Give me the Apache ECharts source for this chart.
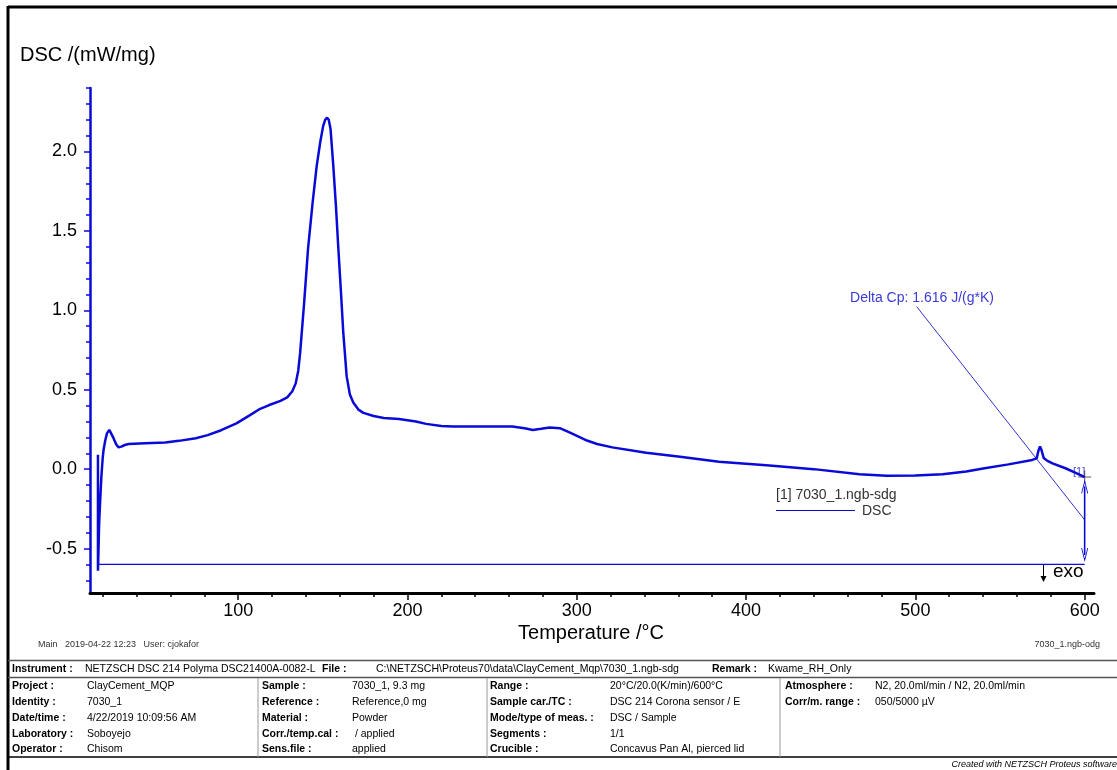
<!DOCTYPE html>
<html><head><meta charset="utf-8">
<script src="https://cdn.jsdelivr.net/npm/echarts@6/dist/echarts.min.js"></script>
<style>html,body{margin:0;padding:0;background:#fff}#c{width:1117px;height:770px}</style>
</head><body><div id="c"></div>
<script>
// ---- data ----
const temperature = [17.2,17.2,17.5,17.8,18.0,18.5,19.2,20.0,20.5,21.5,22.5,23.9,25.0,26.4,28.0,29.4,31.0,33.0,35.3,45,57,65,75,82,90,99,107,113,118,125,129,132,134,135.5,136.6,139,141.3,144,146.4,148.5,150.2,151.4,152.5,153.5,154.6,156.2,157.8,159.2,160.7,162.1,164.1,166,168,171,174,180,186,195,205,211,220,227,245,262,270,274,279,284,290,296,302,306,312,321,341,361,384,412,440,467,483,500,516,530,540,555,569,571.6,572.8,573.6,574.5,575.8,578,581,589,595,600];
const dsc = [0.09,-0.64,-0.52,-0.38,-0.32,-0.2,-0.05,0.07,0.12,0.18,0.225,0.247,0.235,0.195,0.155,0.137,0.142,0.152,0.158,0.163,0.168,0.178,0.195,0.214,0.245,0.288,0.34,0.38,0.402,0.43,0.452,0.49,0.54,0.62,0.73,1.05,1.39,1.68,1.91,2.06,2.16,2.2,2.213,2.2,2.14,1.91,1.65,1.386,1.12,0.86,0.584,0.47,0.42,0.375,0.354,0.335,0.322,0.315,0.3,0.285,0.272,0.268,0.268,0.268,0.256,0.247,0.254,0.262,0.258,0.23,0.2,0.18,0.158,0.137,0.103,0.078,0.046,0.025,0.0,-0.032,-0.042,-0.04,-0.032,-0.015,0.004,0.03,0.058,0.068,0.12,0.143,0.12,0.07,0.052,0.036,0.004,-0.025,-0.05];
const baselineT = [17.2, 600];
const baselineY = [-0.6, -0.6];
const deltaCpLineT = [500.8, 600];
const deltaCpLineY = [1.023, -0.32];
const deltaCpArrowT = [600, 600];
const deltaCpArrowY = [-0.11, -0.54];
const endMarker = [600, -0.05];
const xMajorTicks = [100,200,300,400,500,600];
const xMinorTicks = [20,40,60,80,100,120,140,160,180,200,220,240,260,280,300,320,340,360,380,400,420,440,460,480,500,520,540,560,580,600];
const yMajorTicks = [-0.5,0.0,0.5,1.0,1.5,2.0];
const yMinorTicks = [-0.7,-0.6,-0.5,-0.4,-0.3,-0.2,-0.1,0,0.1,0.2,0.3,0.4,0.5,0.6,0.7,0.8,0.9,1.0,1.1,1.2,1.3,1.4,1.5,1.6,1.7,1.8,1.9,2.0,2.1,2.2,2.3,2.4];
const yAxisTitle = 'DSC /(mW/mg)';
const xAxisTitle = 'Temperature /°C';
const deltaCpText = 'Delta Cp: 1.616 J/(g*K)';
const legendFile = '[1] 7030_1.ngb-sdg';
const legendName = 'DSC';
const footerLeft = 'Main   2019-04-22 12:23   User: cjokafor';
const footerRight = '7030_1.ngb-odg';
const instrumentRow = [['Instrument :', true], ['NETZSCH DSC 214 Polyma DSC21400A-0082-L', false], ['File :', true], ['C:\\NETZSCH\\Proteus70\\data\\ClayCement_Mqp\\7030_1.ngb-sdg', false], ['Remark :', true], ['Kwame_RH_Only', false]];
const col1Labels = ['Project :','Identity :','Date/time :','Laboratory :','Operator :'];
const col1Values = ['ClayCement_MQP','7030_1','4/22/2019 10:09:56 AM','Soboyejo','Chisom'];
const col2Labels = ['Sample :','Reference :','Material :','Corr./temp.cal :','Sens.file :'];
const col2Values = ['7030_1, 9.3 mg','Reference,0 mg','Powder',' / applied','applied'];
const col3Labels = ['Range :','Sample car./TC :','Mode/type of meas. :','Segments :','Crucible :'];
const col3Values = ['20°C/20.0(K/min)/600°C','DSC 214 Corona sensor / E','DSC / Sample','1/1','Concavus Pan Al, pierced lid'];
const col4Labels = ['Atmosphere :','Corr/m. range :'];
const col4Values = ['N2, 20.0ml/min / N2, 20.0ml/min','050/5000 µV'];
const creditText = 'Created with NETZSCH Proteus software';

// ---- chart ----
const FONT = 'Arial, "Liberation Sans", sans-serif';
const BLUE = '#0a0ad8';
const TF = '10.5px ';
const chart = echarts.init(document.getElementById('c'), null, {renderer: 'canvas'});
const zip = (a, b) => a.map((v, i) => [v, b[i]]);
const chevron = 'path://M0,10 L5,0 L10,10 L8.8,10 L5,2.4 L1.2,10 Z';
const cross = 'path://M0,4.6 H10 V5.4 H0 Z M4.6,0 H5.4 V10 H4.6 Z';

const graphics = [];
graphics.push({type:'line', shape:{x1:8,y1:7,x2:1117,y2:7}, style:{stroke:'#000', lineWidth:3}});
graphics.push({type:'line', shape:{x1:8,y1:6,x2:8,y2:770}, style:{stroke:'#000', lineWidth:3}});
graphics.push({type:'text', x:20, y:55, style:{text:yAxisTitle, font:'20px '+FONT, fill:'#000', verticalAlign:'middle'}});
graphics.push({type:'text', x:591, y:633, style:{text:xAxisTitle, font:'20px '+FONT, fill:'#000', align:'center', verticalAlign:'middle'}});
graphics.push({type:'text', x:922, y:298, style:{text:deltaCpText, font:'14px '+FONT, fill:'#3b3bd6', align:'center', verticalAlign:'middle'}});
graphics.push({type:'text', x:776, y:495, style:{text:legendFile, font:'14px '+FONT, fill:'#333', verticalAlign:'middle'}});
graphics.push({type:'line', shape:{x1:776,y1:510.5,x2:855,y2:510.5}, style:{stroke:BLUE, lineWidth:1}});
graphics.push({type:'text', x:862, y:511, style:{text:legendName, font:'14px '+FONT, fill:'#333', verticalAlign:'middle'}});
graphics.push({type:'text', x:1073, y:472, style:{text:'[1]', font:'11px '+FONT, fill:'#4848d8', verticalAlign:'middle'}});
// exo arrow (thin)
graphics.push({type:'line', shape:{x1:1043.5,y1:565,x2:1043.5,y2:581}, style:{stroke:'#000', lineWidth:1}});
graphics.push({type:'polygon', shape:{points:[[1040.5,576],[1046.5,576],[1043.5,582]]}, style:{fill:'#000'}});
graphics.push({type:'text', x:1053, y:572, style:{text:'exo', font:'19px '+FONT, fill:'#000', verticalAlign:'middle'}});
graphics.push({type:'text', x:38, y:645, style:{text:footerLeft, font:'9px '+FONT, fill:'#333', verticalAlign:'middle'}});
graphics.push({type:'text', x:1100, y:645, style:{text:footerRight, font:'9px '+FONT, fill:'#333', align:'right', verticalAlign:'middle'}});
graphics.push({type:'line', shape:{x1:8,y1:660.5,x2:1117,y2:660.5}, style:{stroke:'#555', lineWidth:1.5}});
graphics.push({type:'line', shape:{x1:8,y1:677.5,x2:1117,y2:677.5}, style:{stroke:'#555', lineWidth:1.5}});
graphics.push({type:'line', shape:{x1:8,y1:757,x2:1117,y2:757}, style:{stroke:'#000', lineWidth:1.5}});
[258, 487, 780].forEach(x => graphics.push({type:'line', shape:{x1:x,y1:678,x2:x,y2:757}, style:{stroke:'#999', lineWidth:1}}));
const instX = [12, 85, 322, 376, 712, 768];
instrumentRow.forEach((c, i) => graphics.push({type:'text', x:instX[i], y:669, style:{text:c[0], font:(c[1]?'bold ':'')+TF+FONT, fill:'#000', verticalAlign:'middle'}}));
const rowY = [686, 702, 718, 734, 749];
function col(labels, values, lx, vx) {
  labels.forEach((t, i) => {
    graphics.push({type:'text', x:lx, y:rowY[i], style:{text:t, font:'bold '+TF+FONT, fill:'#000', verticalAlign:'middle'}});
    graphics.push({type:'text', x:vx, y:rowY[i], style:{text:values[i], font:TF+FONT, fill:'#000', verticalAlign:'middle'}});
  });
}
col(col1Labels, col1Values, 12, 87);
col(col2Labels, col2Values, 262, 352);
col(col3Labels, col3Values, 490, 610);
col(col4Labels, col4Values, 785, 875);
graphics.push({type:'text', x:1117, y:764, style:{text:creditText, font:'italic 9px '+FONT, fill:'#000', align:'right', verticalAlign:'middle'}});

const XMIN = 12.5, XMAX = 605.5, YMIN = -0.78, YMAX = 2.4;
const option = {
  animation: false,
  backgroundColor: '#fff',
  grid: {left: 90, right: 23, top: 88, bottom: 177, containLabel: false},
  xAxis: [
    {type:'value', min:XMIN, max:XMAX, position:'bottom',
     axisLine:{show:true, onZero:false, lineStyle:{color:'#000', width:3}},
     axisTick:{show:true, customValues:xMajorTicks, length:7, lineStyle:{color:'#000', width:1.5}},
     axisLabel:{show:true, customValues:xMajorTicks, fontSize:18, fontFamily:FONT, color:'#000', margin:9},
     splitLine:{show:false}},
    {type:'value', min:XMIN, max:XMAX, position:'bottom',
     axisLine:{show:false, onZero:false},
     axisTick:{show:true, customValues:xMinorTicks, length:4, lineStyle:{color:'#000', width:1.5}},
     axisLabel:{show:false}, splitLine:{show:false}}
  ],
  yAxis: [
    {type:'value', min:YMIN, max:YMAX, position:'left',
     axisLine:{show:true, onZero:false, lineStyle:{color:BLUE, width:2.5}},
     axisTick:{show:true, customValues:yMajorTicks, length:6, lineStyle:{color:BLUE, width:1.5}},
     axisLabel:{show:true, customValues:yMajorTicks, fontSize:18, fontFamily:FONT, color:'#000', margin:13,
       formatter: v => v.toFixed(1)},
     splitLine:{show:false}},
    {type:'value', min:YMIN, max:YMAX, position:'left',
     axisLine:{show:false, onZero:false},
     axisTick:{show:true, customValues:yMinorTicks, length:4, lineStyle:{color:BLUE, width:1.5}},
     axisLabel:{show:false}, splitLine:{show:false}}
  ],
  series: [
    {type:'line', data: zip(baselineT, baselineY), showSymbol:false, lineStyle:{color:BLUE, width:1.3}, silent:true},
    {type:'line', data: zip(deltaCpLineT, deltaCpLineY), showSymbol:false, lineStyle:{color:'#3434c8', width:1}, silent:true},
    {type:'line', data: zip(deltaCpArrowT, deltaCpArrowY), showSymbol:false, lineStyle:{color:BLUE, width:1.3}, silent:true,
     markLine:{silent:true, symbol:[chevron, chevron], symbolSize:[7,14], label:{show:false},
       lineStyle:{color:BLUE, width:1.3, type:'solid'},
       data:[[{coord:[deltaCpArrowT[0], deltaCpArrowY[0]]},{coord:[deltaCpArrowT[1], deltaCpArrowY[1]]}]]}},
    {type:'line', name:'DSC', data: zip(temperature, dsc), showSymbol:false, smooth:false,
     lineStyle:{color:BLUE, width:2.5}, silent:true},
    {type:'scatter', data:[endMarker], symbol:cross, symbolSize:13, itemStyle:{color:'#333'}, silent:true}
  ],
  graphic: graphics
};
chart.setOption(option);
</script></body></html>
